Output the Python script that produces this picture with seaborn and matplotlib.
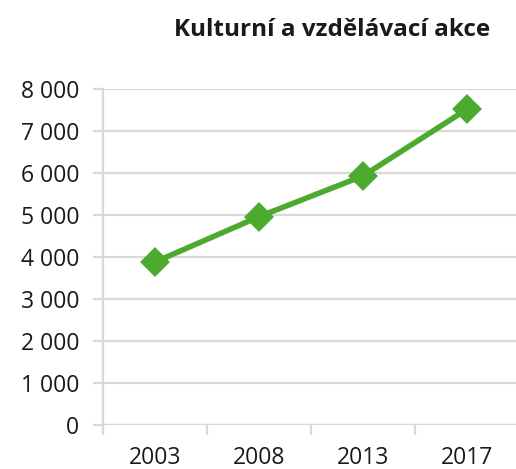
import matplotlib
matplotlib.use("Agg")
import matplotlib.pyplot as plt
import seaborn as sns
import pandas as pd
from matplotlib.ticker import FixedLocator, FuncFormatter

years = ["2003", "2008", "2013", "2017"]
values = [3880, 4960, 5930, 7520]
yticks = [0, 1000, 2000, 3000, 4000, 5000, 6000, 7000, 8000]
title = "Kulturní a vzdělávací akce"

sns.set_theme(style="white")
plt.rcParams['font.family'] = ['Open Sans', 'DejaVu Sans']

df = pd.DataFrame({"year": years, "value": values})

W, H = 516, 469
fig = plt.figure(figsize=(W / 100, H / 100), dpi=100)
ax = fig.add_axes([103 / W, (H - 425) / H, (519 - 103) / W, (425 - 89) / H])

green = "#4CAB2F"
grid = "#D9D9D9"
sns.pointplot(data=df, x="year", y="value", ax=ax, color=green, markers="D",
              linewidth=4, markersize=12, errorbar=None)
for ln in ax.lines:
    ln.set_markersize(12.5)
    ln.set_linewidth(4)
    ln.set_zorder(5)
    ln.set_clip_on(False)

ax.set_xlim(-0.5, 3.5)
ax.set_ylim(0, 8000)
ax.set_yticks(yticks)
ax.yaxis.set_major_formatter(FuncFormatter(lambda v, p: f"{int(v):,}".replace(",", " ")))
ax.grid(axis="y", color=grid, linewidth=1.6)
ax.set_axisbelow(True)
for s in ["top", "right", "bottom"]:
    ax.spines[s].set_visible(False)
ax.spines["left"].set_color(grid)
ax.spines["left"].set_linewidth(1.6)
ax.axhline(0, color=grid, linewidth=1.6, zorder=1)

ax.tick_params(axis="y", which="major", length=7, width=1.6, color=grid,
               labelsize=16.5, labelcolor="#1a1a1a", pad=10, left=True, direction="out")
ax.xaxis.set_minor_locator(FixedLocator([-0.5, 0.5, 1.5, 2.5, 3.5]))
ax.tick_params(axis="x", which="major", length=0, labelsize=16.5, labelcolor="#1a1a1a", pad=15)
ax.tick_params(axis="x", which="minor", length=7, width=1.6, color=grid, bottom=True, direction="out")
ax.set_xlabel("")
ax.set_ylabel("")

fig.text(332 / W, 1 - 30 / H, title, ha="center", va="center",
         fontsize=17.5, fontweight="bold", color="#1a1a1a")

fig.savefig("out.png", dpi=100)
